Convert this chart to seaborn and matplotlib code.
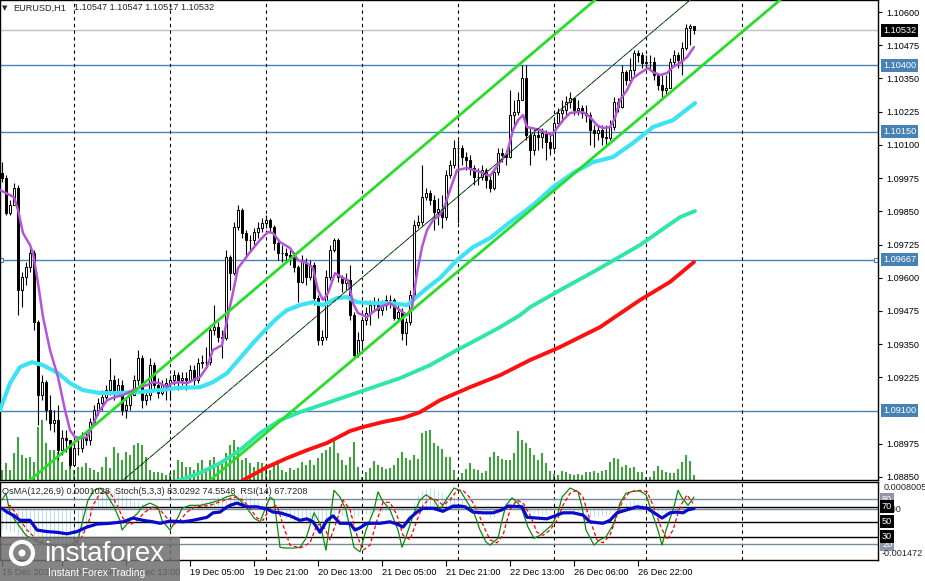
import numpy as np
import pandas as pd
import matplotlib
matplotlib.use("Agg")
import matplotlib.pyplot as plt
import matplotlib.transforms as mtrans
from matplotlib.patches import Rectangle, Ellipse
import seaborn as sns

sns.set_theme(style="white")
plt.rcParams["font.family"] = ["Liberation Sans", "DejaVu Sans"]

# ---------------- data (EURUSD H1, prices in points = price * 1e5) ----------------
symbol = "EURUSD,H1"
first_open_pts = 109994
close_pts = [
    109975, 109843, 109873, 109937, 109553, 109602, 109640, 109693, 109433, 109158,
    109207, 109102, 109053, 109064, 108951, 108996, 108989, 108895, 108959, 108959,
    109000, 108989, 109057, 109102, 109128, 109151, 109177, 109215, 109166, 109196,
    109102, 109121, 109158, 109215, 109297, 109139, 109158, 109271, 109196, 109166,
    109196, 109203, 109215, 109233, 109215, 109222, 109215, 109252, 109215, 109279,
    109282, 109282, 109403, 109414, 109377, 109373, 109678, 109617, 109791, 109855,
    109768, 109742, 109742, 109772, 109787, 109806, 109817, 109791, 109730, 109693,
    109693, 109685, 109678, 109640, 109584, 109659, 109602, 109648, 109523, 109365,
    109377, 109602, 109704, 109742, 109602, 109580, 109591, 109459, 109309, 109365,
    109441, 109467, 109497, 109497, 109478, 109497, 109516, 109516, 109448, 109471,
    109392, 109433, 109535, 109798, 109809, 109903, 109919, 109892, 109847, 109858,
    109828, 109986, 110024, 110088, 110088, 110054, 110043, 110013, 109979, 109979,
    110005, 109967, 109937, 109998, 110069, 110062, 110054, 110212, 110223, 110269,
    110351, 110137, 110080, 110137, 110129, 110144, 110111, 110088, 110182, 110220,
    110231, 110261, 110276, 110231, 110238, 110220, 110212, 110156, 110144, 110156,
    110129, 110126, 110167, 110261, 110242, 110374, 110344, 110382, 110446, 110438,
    110408, 110412, 110412, 110363, 110325, 110306, 110314, 110412, 110438, 110419,
    110464, 110540, 110547, 110532]
high_pts = [
    110035, 109986, 109892, 109956, 109949, 109621, 109659, 109712, 109704, 109441,
    109233, 109215, 109158, 109102, 109121, 109026, 109026, 108989, 108970, 108989,
    109019, 109019, 109072, 109121, 109147, 109177, 109196, 109297, 109233, 109222,
    109215, 109147, 109177, 109233, 109328, 109309, 109177, 109297, 109282, 109222,
    109215, 109222, 109233, 109252, 109245, 109245, 109245, 109271, 109271, 109297,
    109309, 109339, 109422, 109497, 109433, 109403, 109704, 109685, 109809, 109873,
    109862, 109779, 109760, 109787, 109809, 109824, 109836, 109824, 109798, 109742,
    109723, 109712, 109704, 109696, 109648, 109685, 109674, 109666, 109659, 109535,
    109403, 109629, 109723, 109749, 109749, 109610, 109617, 109648, 109471, 109395,
    109448, 109489, 109516, 109527, 109523, 109516, 109535, 109535, 109523, 109497,
    109486, 109448, 109553, 109817, 109836, 110024, 109937, 109930, 109911, 109900,
    109911, 110005, 110043, 110118, 110118, 110099, 110073, 110062, 110024, 110013,
    110024, 110013, 109986, 110013, 110088, 110088, 110080, 110306, 110269, 110299,
    110400, 110400, 110163, 110163, 110156, 110163, 110156, 110137, 110201, 110238,
    110269, 110284, 110299, 110276, 110269, 110250, 110250, 110223, 110174, 110174,
    110174, 110174, 110193, 110280, 110276, 110400, 110382, 110427, 110457, 110457,
    110449, 110438, 110438, 110430, 110370, 110363, 110363, 110427, 110457, 110449,
    110487, 110555, 110555, 110547]
low_pts = [
    109960, 109836, 109836, 109873, 109459, 109489, 109572, 109621, 109403, 109045,
    109139, 109064, 109026, 109019, 108914, 108932, 108944, 108883, 108906, 108932,
    108944, 108970, 108970, 109045, 109083, 109102, 109139, 109158, 109139, 109158,
    109083, 109072, 109102, 109158, 109196, 109109, 109121, 109139, 109177, 109147,
    109158, 109139, 109139, 109196, 109177, 109196, 109177, 109207, 109196, 109203,
    109260, 109267, 109271, 109384, 109358, 109297, 109365, 109553, 109610, 109779,
    109749, 109674, 109704, 109723, 109749, 109772, 109787, 109772, 109704, 109666,
    109659, 109659, 109648, 109621, 109508, 109580, 109572, 109591, 109497, 109346,
    109346, 109365, 109591, 109696, 109584, 109546, 109553, 109441, 109297, 109301,
    109328, 109422, 109422, 109478, 109448, 109459, 109478, 109486, 109441, 109433,
    109365, 109346, 109422, 109523, 109787, 109798, 109892, 109873, 109779, 109798,
    109787, 109817, 109975, 110013, 109806, 110024, 110005, 109986, 109949, 109949,
    109967, 109937, 109922, 109930, 109986, 110035, 110024, 110050, 110174, 110212,
    110269, 110118, 110024, 110062, 110080, 110088, 110043, 110062, 110080, 110174,
    110186, 110212, 110238, 110212, 110212, 110201, 110186, 110099, 110092, 110118,
    110099, 110099, 110118, 110156, 110223, 110238, 110325, 110336, 110363, 110412,
    110389, 110389, 110382, 110344, 110306, 110280, 110287, 110314, 110400, 110389,
    110363, 110457, 110476, 110517]
tick_volume = [
    1000, 1700, 1000, 2700, 4300, 2500, 2200, 2300, 1800, 5300,
    6000, 3700, 3000, 3000, 2800, 1800, 1000, 1700, 1000, 1300,
    1300, 1700, 1200, 1000, 800, 1300, 2300, 1200, 3300, 2700,
    2000, 2800, 2500, 3500, 3700, 3500, 2300, 1000, 800, 800,
    700, 500, 700, 1000, 2000, 1800, 1300, 1300, 1000, 1700,
    2000, 1200, 2000, 2300, 1500, 1800, 2700, 3500, 4000, 3300,
    2000, 2200, 1700, 1300, 1800, 1700, 1500, 1000, 1500, 2000,
    1000, 800, 1200, 1000, 1200, 1800, 1500, 2000, 1500, 2200,
    2700, 3000, 3300, 4200, 2700, 2000, 1500, 2300, 3800, 1300,
    300, 800, 1200, 1900, 1500, 1300, 1100, 1200, 1500, 2200,
    2800, 2200, 2000, 2500, 2100, 4700, 4900, 5000, 3700, 3400,
    3100, 2300, 2300, 1000, 200, 700, 1100, 1700, 1100, 1000,
    700, 900, 2300, 2800, 2400, 2100, 2000, 2000, 2700, 4900,
    4000, 3700, 3200, 2500, 2000, 2700, 1700, 900, 600, 500,
    900, 800, 600, 500, 600, 500, 800, 800, 900, 700,
    900, 1000, 1800, 2200, 2100, 1300, 1500, 1200, 1300, 800,
    800, 300, 300, 900, 1400, 1000, 800, 700, 700, 1100,
    1800, 2500, 1900, 500]

# moving averages: (bar index, price points)
ma_fast_bar = [-0.5, 2, 3, 4, 5.25, 7, 7.75, 9, 10.25, 12, 14, 15.75, 17, 18.25, 20, 21.25, 22.5, 24,
               26.25, 28.25, 30.25, 32.75, 34.5, 36.25, 37.75, 39.5, 41.25, 42.5, 44.5, 46.25, 47.75,
               49.5, 51.25, 52.75, 55, 56.25, 57.5, 59, 62, 64.5, 66.5, 67.75, 69.5, 72, 74, 76.25,
               77.75, 79, 80.25, 81.5, 83.25, 85.25, 86.5, 87.75, 89, 91.25, 92.75, 94.5, 97, 99.5,
               101.25, 102.5, 103.75, 105, 106.25, 107.75, 109.5, 110.75, 112, 113.75, 116.25, 119.5,
               122, 124.5, 126.25, 127.75, 129, 130.25, 131.25, 132.5, 134.5, 136.25, 137.5, 138.75,
               140.25, 142, 143.75, 145.25, 147, 148.75, 150.25, 152, 153.25, 154.5, 156.25, 157.75,
               159.5, 161.5, 162.75, 164.5, 166.25, 167.75, 169.5, 171.25, 173]
ma_fast_pts = [109930, 109911, 109903, 109855, 109768, 109723, 109693, 109580, 109452, 109328, 109226,
               109102, 109026, 109000, 108996, 109000, 109038, 109090, 109139, 109151, 109158, 109177,
               109188, 109196, 109207, 109203, 109188, 109203, 109207, 109203, 109215, 109226, 109264,
               109328, 109346, 109441, 109527, 109636, 109696, 109742, 109772, 109768, 109734, 109712,
               109666, 109655, 109636, 109553, 109516, 109542, 109617, 109599, 109591, 109504, 109467,
               109452, 109471, 109489, 109504, 109478, 109459, 109489, 109617, 109715, 109779, 109817,
               109836, 109873, 109930, 110005, 110013, 109998, 109983, 110035, 110069, 110156, 110193,
               110212, 110167, 110163, 110156, 110144, 110137, 110163, 110193, 110220, 110223, 110223,
               110205, 110174, 110163, 110167, 110201, 110269, 110306, 110351, 110370, 110389, 110374,
               110363, 110370, 110393, 110408, 110430, 110468]
ma_mid_bar = [-0.5, 2, 4.5, 7.5, 10.25, 14, 17, 20.25, 24.5, 28.75, 34.5, 39.5, 43.75, 49.5, 52.75,
              56.25, 59.5, 62.75, 66.25, 68.75, 71.25, 74.5, 77.75, 80.25, 83.75, 86.25, 88.75, 92.75,
              97.75, 101.25, 102.75, 106.25, 109.5, 113.75, 117.75, 122, 127, 129.5, 132.75, 137.75,
              142.75, 147.75, 152.75, 157.75, 162.75, 167.75, 173.25]
ma_mid_pts = [109102, 109203, 109264, 109282, 109271, 109241, 109203, 109177, 109166, 109166, 109170,
              109177, 109185, 109188, 109207, 109241, 109297, 109354, 109410, 109448, 109478, 109497,
              109508, 109497, 109523, 109527, 109508, 109504, 109504, 109497, 109516, 109561, 109599,
              109666, 109715, 109749, 109809, 109836, 109873, 109941, 109994, 110035, 110054, 110107,
              110167, 110193, 110257]
ma_slow_bar = [39.5, 44.5, 49.5, 54.5, 59.5, 64.5, 69.5, 74.5, 87, 99.5, 107, 113.75, 119.5, 124.5,
               129.5, 132, 139.5, 149.5, 159.5, 169.5, 173.25]
ma_slow_pts = [108819, 108838, 108865, 108902, 108951, 109015, 109064, 109094, 109158, 109222, 109271,
               109328, 109373, 109414, 109459, 109489, 109553, 109636, 109723, 109828, 109851]
ma_long_bar = [57, 60.25, 66.25, 71.25, 76.25, 81.25, 87, 90.25, 95.25, 100.25, 104.5, 109.5, 117,
               124.5, 132, 139.5, 149.5, 159.5, 167, 173]
ma_long_pts = [108793, 108838, 108887, 108921, 108951, 108978, 109023, 109038, 109057, 109072, 109094,
               109139, 109188, 109233, 109290, 109339, 109414, 109516, 109584, 109659]

# horizontal levels and channel anchors (bar, price)
levels = [1.10400, 1.10150, 1.09667, 1.09100]
channel_upper = [(7, 1.08838), (148.25, 1.10645)]
channel_lower = [(52, 1.08838), (194.5, 1.10645)]
channel_mid = [(30.25, 1.08838), (172, 1.10645)]

# oscillators
osma_e5 = [
    -60, -62, -65, -68, -75, -85, -95, -105, -110, -120,
    -128, -132, -135, -135, -132, -128, -120, -112, -100, -88,
    -70, -50, -25, 10, 40, 60, 66, 66, 62, 55,
    45, 40, 32, 28, 25, 18, 14, 12, 10, 8,
    6, 6, 8, 10, 12, 12, 10, 12, 14, 18,
    24, 28, 32, 36, 38, 40, 42, 45, 48, 50,
    48, 44, 40, 34, 28, 20, 12, 4, -6, -15,
    -22, -28, -32, -36, -40, -42, -44, -44, -42, -45,
    -44, -40, -35, -28, -22, -20, -22, -25, -24, -22,
    -18, -15, -12, -10, -8, -8, -8, -7, -6, -7,
    -8, -5, 5, 25, 45, 58, 64, 66, 62, 56,
    50, 44, 42, 40, 36, 28, 18, 12, 6, 0,
    -10, -18, -24, -22, -12, 0, 15, 24, 28, 28,
    22, 5, -10, -14, -16, -16, -14, -8, -2, 2,
    0, -2, -4, -6, -8, -14, -18, -22, -24, -22,
    -20, -18, -14, -8, -2, 8, 18, 24, 28, 26,
    20, 10, 0, -8, -12, -14, -12, -6, 2, 6,
    8, 9, 10, 10.28]
stoch_k_bar = [0, 1, 2, 4.5, 6, 8, 9.5, 12, 14.5, 17, 19, 20, 21.5, 23, 24.5, 26, 28, 29.5, 30, 32,
               34, 35, 37, 39, 40, 42, 44, 45, 47, 49.5, 52, 54.5, 56, 58, 59.5, 61, 63, 64.5, 66, 67,
               68, 69.5, 71, 73, 74.5, 76, 78, 79.5, 81, 82, 83, 84.5, 86, 88, 89.5, 91, 93, 94, 95,
               97, 99, 100, 101, 103, 104.5, 106, 108, 109.5, 111, 113, 114.5, 116, 118, 119.5, 121,
               122, 124, 125, 126, 127.5, 129, 130, 131.5, 133, 134.5, 136, 137.5, 139, 140, 142,
               144, 145, 146, 148, 149.5, 151, 153, 154.5, 156, 158, 159.5, 161, 162, 164, 165, 166,
               168, 169, 170, 171.5, 173]
stoch_k_val = [79, 88, 62, 43, 32, 26, 22, 19, 16, 19, 26, 48, 79, 92, 95, 88, 70, 52, 39, 52,
               62, 70, 75, 70, 52, 39, 56, 68, 72, 72, 75, 79, 83, 86, 79, 70, 55, 50, 70, 83,
               79, 16, 15, 15, 16, 28, 62, 48, 12, 52, 92, 83, 66, 16, 10, 39, 66, 90, 79, 66,
               39, 16, 30, 62, 79, 86, 79, 66, 79, 95, 92, 79, 62, 39, 23, 19, 28, 52, 72, 82,
               75, 66, 43, 28, 32, 39, 46, 62, 83, 95, 90, 70, 39, 19, 26, 30, 48, 75, 88, 91,
               91, 86, 70, 39, 19, 39, 70, 92, 82, 72, 83.0292]
stoch_d_bar = [0, 2, 3.75, 6.25, 8.75, 12, 15.25, 17.75, 19.5, 21.5, 22.75, 24.5, 27, 28.75, 30.25,
               32, 33.75, 35.75, 37.75, 39.5, 41.25, 42.75, 44.5, 46.25, 48.25, 52, 55.75, 58.25,
               60.25, 62, 63.75, 65.25, 67, 68.75, 70.25, 72, 74.5, 77, 78.75, 80.25, 82, 83.75,
               85.25, 87, 88.75, 90.25, 92, 93.75, 95.25, 97, 98.75, 100.25, 102, 103.75, 105.25,
               107, 108.75, 110.25, 112, 113.75, 115.25, 117, 118.75, 120.25, 122, 123.75, 125.25,
               127, 128.75, 130.25, 132, 133.75, 135.25, 137, 138.75, 140.25, 142, 143.75, 145.25,
               147, 148.75, 150.25, 152, 153.75, 155.25, 157, 159.5, 161.25, 162.75, 164.5, 166.25,
               167.75, 169.5, 171.25, 172.75]
stoch_d_val = [68, 72, 59, 39, 26, 19, 16, 18, 26, 46, 72, 88, 90, 72, 55, 46, 52, 63, 70, 66,
               55, 46, 52, 63, 70, 72, 79, 83, 79, 68, 55, 52, 68, 72, 46, 19, 15, 22, 46, 46,
               26, 52, 79, 66, 32, 12, 19, 52, 76, 76, 59, 32, 26, 52, 72, 82, 79, 72, 79, 92,
               92, 82, 66, 46, 26, 22, 32, 66, 79, 75, 59, 36, 32, 39, 52, 72, 88, 92, 83, 52,
               26, 22, 32, 59, 79, 90, 92, 90, 72, 46, 26, 39, 70, 86, 74.5548]
rsi_bar = [0, 1.25, 2.75, 4.5, 7, 8.75, 11.25, 13.75, 16.25, 18.75, 21.25, 23.75, 27, 30.25, 32.75,
           35.25, 37.75, 39.5, 42, 45.25, 47.75, 51.25, 52.75, 54.5, 55.75, 57, 58.75, 61.25, 63.75,
           66.25, 67.75, 69.5, 72, 74.5, 76.25, 77.75, 79.5, 81.25, 82.75, 84.5, 87, 88.25, 89.5,
           91.25, 94.5, 97, 98.75, 100.25, 102, 103.75, 105.25, 107.75, 110.25, 112.75, 114.5,
           115.75, 117.75, 120.25, 122.75, 125, 126.5, 130, 131.25, 133.75, 136.25, 138.25, 140.25,
           142.75, 145.25, 147, 150.25, 152, 153.75, 156.25, 158.75, 161.25, 162.75, 165, 167,
           168.75, 170.25, 171.5, 173]
rsi_val = [68, 63, 59, 52, 52, 39, 37, 36, 34, 37, 43, 47, 48, 50, 55, 52, 50, 48, 51, 50,
           52, 56, 62, 63, 68, 72, 75, 70, 70, 67, 63, 62, 58, 52, 54, 50, 36, 52, 58, 48,
           48, 39, 42, 48, 48, 50, 47, 43, 55, 63, 68, 68, 64, 71, 71, 70, 63, 62, 62, 66,
           71, 70, 56, 55, 54, 58, 62, 62, 59, 50, 48, 52, 62, 66, 70, 68, 63, 55, 62, 63,
           62, 66, 67.7208]
osc_levels_grey = [80, 20]
osc_levels_black = [70, 50, 30]

day_start_bars = [18, 42, 66, 90, 114, 138, 161, 185]
date_tick_bars = [0, 15, 31, 47, 63, 79, 95, 111, 127, 143, 159]
date_tick_labels = ["15 Dec 2023", "15 Dec 21:00", "18 Dec 13:00", "19 Dec 05:00", "19 Dec 21:00",
                    "20 Dec 13:00", "21 Dec 05:00", "21 Dec 21:00", "22 Dec 13:00", "26 Dec 06:00",
                    "26 Dec 22:00"]
price_ticks = [1.10600, 1.10475, 1.10350, 1.10225, 1.10100, 1.09975, 1.09850, 1.09725, 1.09600,
               1.09475, 1.09350, 1.09225, 1.08975, 1.08850]

# ---------------- derived arrays ----------------
closes = np.array(close_pts) / 1e5
opens = np.r_[first_open_pts / 1e5, closes[:-1]]
highs = np.maximum.reduce([np.array(high_pts) / 1e5, opens, closes])
lows = np.minimum.reduce([np.array(low_pts) / 1e5, opens, closes])
bars = np.arange(len(closes))
vol = np.array(tick_volume)
osma = np.array(osma_e5) * 1e-5

# ---------------- figure layout ----------------
W, H = 925, 581
fig = plt.figure(figsize=(W / 100, H / 100), dpi=100)
fig.patch.set_facecolor("white")


def fx(px):
    return px / W


def fy(py):
    return 1 - py / H


main_rect = [0.0, fy(480), fx(878), 480 / H]
osc_rect = [0.0, fy(560), fx(878), 78 / H]
XLIM = (-0.5, 219)
FS = 6.6
LIME = "#27DD27"

ax_vol = fig.add_axes(main_rect)
ax = fig.add_axes(main_rect)
ax.patch.set_visible(False)
ax_osma = fig.add_axes(osc_rect)
ax_osc = fig.add_axes(osc_rect)
ax_osc.patch.set_visible(False)

# volumes
ax_vol.vlines(bars, 0, vol, color="#008a00", lw=1.1)
ax_vol.set_xlim(*XLIM)
ax_vol.set_ylim(0, 48000)
ax_vol.axis("off")

# horizontal levels and price line
for lv in levels:
    ax.axhline(lv, color="#4682B4", lw=1.0, zorder=2)
ax.axhline(closes[-1], color="#C0C0C0", lw=1.0, zorder=2)
for xm in (XLIM[0] + 0.3, XLIM[1] - 0.5):
    ax.plot([xm], [levels[2]], marker="s", ms=3.5, mfc="white", mec="#4682B4", mew=0.8,
            clip_on=False, zorder=2)

# day separators
for d in day_start_bars:
    ax.axvline(d, color="black", lw=0.8, ls=(0, (3, 3)), zorder=2)
    ax_osc.axvline(d, color="black", lw=0.8, ls=(0, (3, 3)), zorder=2)

# candles
ax.vlines(bars, lows, highs, color="black", lw=0.8, zorder=3)
up = closes >= opens
ax.bar(bars[up], (closes - opens)[up], bottom=opens[up], width=0.6, color="white",
       edgecolor="black", lw=0.7, zorder=4)
ax.bar(bars[~up], (opens - closes)[~up], bottom=closes[~up], width=0.6, color="black",
       edgecolor="black", lw=0.7, zorder=4)

# moving averages with seaborn
ma_specs = [
    (ma_long_bar, ma_long_pts, "#FF1010", 2.8),
    (ma_slow_bar, ma_slow_pts, "#2EE6A6", 2.8),
    (ma_mid_bar, ma_mid_pts, "#3DE3F2", 3.0),
    (ma_fast_bar, ma_fast_pts, "#B455D6", 1.8),
]
for b, p, c, w in ma_specs:
    df = pd.DataFrame({"bar": b, "price": np.array(p) / 1e5})
    sns.lineplot(data=df, x="bar", y="price", ax=ax, color=c, linewidth=w,
                 estimator=None, sort=False, zorder=5)

# channel lines
ax.axline(channel_upper[0], channel_upper[1], color=LIME, lw=2.0, zorder=6)
ax.axline(channel_lower[0], channel_lower[1], color=LIME, lw=2.0, zorder=6)
ax.axline(channel_mid[0], channel_mid[1], color="black", lw=0.6, zorder=6)
ax.axline(channel_mid[0], channel_mid[1], color=LIME, lw=0.7, ls=(0, (2, 5)), zorder=6)

ax.set_xlim(*XLIM)
ax.set_ylim(1.088387, 1.106452)
ax.set_xlabel("")
ax.set_ylabel("")
ax.set_xticks([])
ax.yaxis.tick_right()
ax.set_yticks(price_ticks)
ax.set_yticklabels([f"{t:.5f}" for t in price_ticks])
ax.tick_params(axis="y", length=3, width=0.8, pad=3, labelsize=FS, colors="black", direction="out",
               right=True, left=False)
for s in ax.spines.values():
    s.set_color("black")
    s.set_linewidth(1.0)
    s.set_visible(True)

trans_main = mtrans.blended_transform_factory(fig.transFigure, ax.transData)
for lv in levels:
    ax.text(fx(883), lv, f"{lv:.5f}", transform=trans_main, fontsize=FS, color="white",
            va="center", ha="left", zorder=10,
            bbox=dict(boxstyle="square,pad=0.22", fc="#4682B4", ec="none"))
ax.text(fx(883), closes[-1], f"{closes[-1]:.5f}", transform=trans_main, fontsize=FS, color="white",
        va="center", ha="left", zorder=10, bbox=dict(boxstyle="square,pad=0.22", fc="black", ec="none"))

# ---------------- oscillator panel ----------------
ax_osma.bar(bars, osma, width=0.72, color="#87CEEB", zorder=1)
ax_osma.axhline(0, color="#778899", lw=1.0)
ax_osma.set_xlim(*XLIM)
ax_osma.set_ylim(-0.001472, 0.0008005)
ax_osma.axis("off")

for lv in osc_levels_grey:
    ax_osc.axhline(lv, color="#778899", lw=1.0, zorder=2)
for lv in osc_levels_black:
    ax_osc.axhline(lv, color="black", lw=1.0, zorder=2)

sns.lineplot(x=stoch_k_bar, y=stoch_k_val, ax=ax_osc, color="#0A8A0A", linewidth=0.9,
             estimator=None, sort=False, zorder=4)
sns.lineplot(x=stoch_d_bar, y=stoch_d_val, ax=ax_osc, color="#FF0000", linewidth=0.9,
             estimator=None, sort=False, zorder=4, linestyle=(0, (3, 2)))
sns.lineplot(x=rsi_bar, y=rsi_val, ax=ax_osc, color="#0A0ACD", linewidth=2.3,
             estimator=None, sort=False, zorder=5)

ax_osc.set_xlim(*XLIM)
ax_osc.set_ylim(-0.93, 103.1)
ax_osc.set_xlabel("")
ax_osc.set_ylabel("")
ax_osc.set_yticks([])
ax_osc.set_xticks(date_tick_bars)
ax_osc.set_xticklabels(date_tick_labels, fontsize=FS, ha="left")
ax_osc.tick_params(axis="x", length=4, width=0.8, pad=2, colors="black", direction="out", bottom=True)
for s in ax_osc.spines.values():
    s.set_color("black")
    s.set_linewidth(1.0)
    s.set_visible(True)

trans_osma = mtrans.blended_transform_factory(fig.transFigure, ax_osma.transData)
trans_osc = mtrans.blended_transform_factory(fig.transFigure, ax_osc.transData)
fig.text(fx(884), fy(488), "0.0008005", fontsize=FS, va="center", ha="left")
fig.text(fx(882), fy(553), "-0.001472", fontsize=FS, va="center", ha="left")
ax_osc.text(fx(884), 0.0, "0.00", transform=trans_osma, fontsize=FS, va="center", ha="left", zorder=9)
for lv in osc_levels_grey:
    ax_osc.text(fx(882), lv, f"{lv}", transform=trans_osc, fontsize=FS, color="white", va="center",
                ha="left", zorder=10, bbox=dict(boxstyle="square,pad=0.2", fc="#8E96A8", ec="none"))
for lv in osc_levels_black:
    ax_osc.text(fx(882), lv, f"{lv}", transform=trans_osc, fontsize=FS, color="white", va="center",
                ha="left", zorder=10, bbox=dict(boxstyle="square,pad=0.2", fc="black", ec="none"))

# ---------------- header texts ----------------
fig.text(fx(2), fy(8), "\u25BC", fontsize=5, va="center", ha="left", family="DejaVu Sans")
fig.text(fx(13), fy(8), symbol, fontsize=FS, va="center", ha="left")
fig.text(fx(74), fy(8), f"{opens[-1]:.5f} {highs[-1]:.5f} {lows[-1]:.5f} {closes[-1]:.5f}",
         fontsize=FS, va="center", ha="left")
fig.text(fx(2), fy(491),
         f"OsMA(12,26,9) {osma[-1]:.7f}  Stoch(5,3,3) {stoch_k_val[-1]:.4f} {stoch_d_val[-1]:.4f}  "
         f"RSI(14) {rsi_val[-1]:.4f}", fontsize=FS, va="center", ha="left")

# ---------------- watermark ----------------
fig.add_artist(Rectangle((0, 0), fx(180), 44 / H, transform=fig.transFigure, fc="#6E6E6E",
                         alpha=0.85, ec="none", zorder=20))
fig.add_artist(Ellipse((fx(22), fy(553)), fx(22), 22 / H, transform=fig.transFigure, fill=False,
                       ec="white", lw=3, zorder=21))
fig.add_artist(Ellipse((fx(22), fy(553)), fx(7), 7 / H, transform=fig.transFigure, fc="white",
                       ec="none", zorder=21))
fig.text(fx(44), fy(554), "instaforex", fontsize=20, color="white", va="center", ha="left", zorder=22)
fig.text(fx(48), fy(573), "Instant Forex Trading", fontsize=7.4, color="white", va="center",
         ha="left", zorder=22)

fig.savefig("out.png", dpi=100, facecolor="white")
